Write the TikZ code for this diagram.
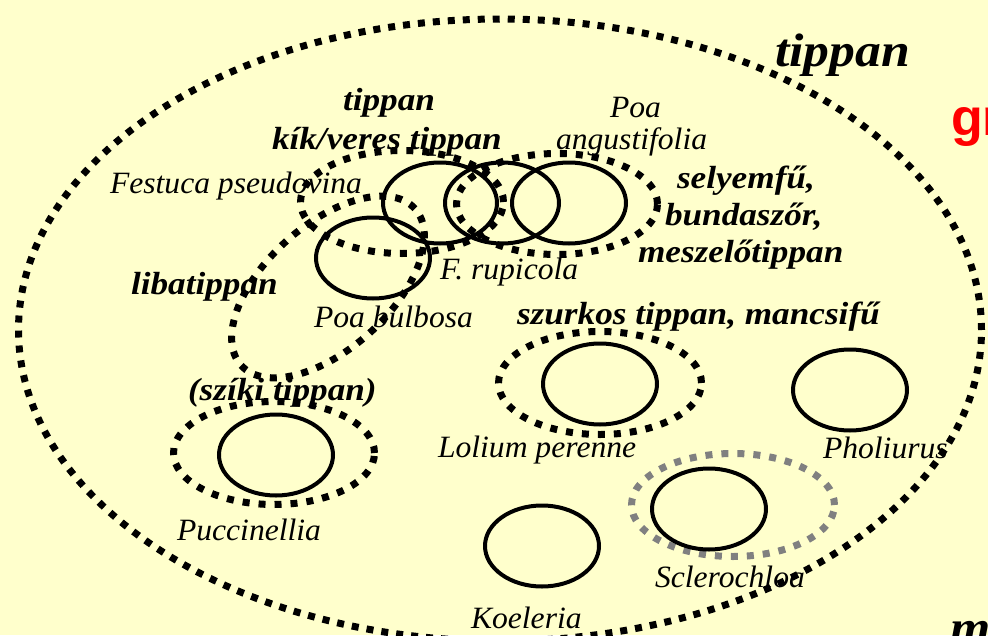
\documentclass[tikz,border=0pt]{standalone}
\usepackage{fontspec}
\setmainfont{Liberation Serif}[ItalicFeatures={FakeStretch=1.02},BoldItalicFeatures={FakeStretch=1.1}]
\newfontfamily\redsans{Liberation Sans}
\usetikzlibrary{shapes.geometric}
\definecolor{bgyellow}{RGB}{255,255,204}
\definecolor{dotgray}{RGB}{128,128,128}
\definecolor{titlered}{RGB}{255,0,0}
\begin{document}
\begin{tikzpicture}[x=1pt,y=-1pt,
  lab/.style={anchor=base west, inner sep=0pt, outer sep=0pt, font=\fontsize{31}{36}\selectfont\itshape},
  blab/.style={anchor=base west, inner sep=0pt, outer sep=0pt, font=\fontsize{32}{36}\selectfont\bfseries\itshape},
  biglab/.style={anchor=base west, inner sep=0pt, outer sep=0pt, font=\fontsize{47}{50}\selectfont\bfseries\itshape},
  ring/.style={ellipse, draw, line width=4pt, inner sep=0pt, outer sep=0pt, minimum width=114pt, minimum height=81pt},
  dotring/.style={ellipse, draw, line width=7pt, dash pattern=on 7pt off 9pt, inner sep=0pt, outer sep=0pt, minimum width=203pt, minimum height=103pt},
  grayring/.style={dotring, draw=dotgray},
]
\useasboundingbox (0,0) rectangle (988,635);
\fill[bgyellow] (0,0) rectangle (988,635);

% labels
\node[biglab] (ltippan) at (775,66) {tippan};
\node[anchor=base west, inner sep=0pt, text=titlered, font=\fontsize{52}{60}\selectfont\redsans\bfseries] (lgr) at (951,135) {gr};
\node[biglab] (lm) at (950,643) {m};
\node[blab] (ltip2) at (343,110) {tippan};
\node[blab] (lkik) at (272,149) {kík/veres tippan};
\node[lab] (lpoa) at (610,117) {Poa};
\node[lab] (langus) at (556,149) {angustifolia};
\node[lab] (lfest) at (110,193) {Festuca pseudovina};
\node[blab] (lsely) at (677,188) {selyemfű,};
\node[blab] (lbund) at (665,225) {bundaszőr,};
\node[blab] (lmesz) at (638,262) {meszelőtippan};
\node[lab] (lrup) at (440,279) {F. rupicola};
\node[blab] (lliba) at (131,294) {libatippan};
\node[lab] (lbulb) at (314,327) {Poa bulbosa};
\node[blab] (lszur) at (517,324) {szurkos tippan, mancsifű};
\node[blab] (lsziki) at (188,400) {(szíki tippan)};
\node[lab] (llol) at (438,457) {Lolium perenne};
\node[lab] (lphol) at (823,458) {Pholiurus};
\node[lab] (lpucc) at (177,540) {Puccinellia};
\node[lab] (lscl) at (655,587) {Sclerochloa};
\node[lab] (lkoel) at (471,628) {Koeleria};

% outer group
\node[ellipse, draw, line width=7pt, dash pattern=on 7pt off 8pt, inner sep=0pt,
      minimum width=963pt, minimum height=622pt] (outer) at (500,330) {};

% dotted groups
\node[dotring] (gkik) at (402,202) {};
\node[dotring, minimum width=201pt, minimum height=101pt] (gsely) at (557,204) {};
\node[dotring, rotate=42, minimum width=234pt, minimum height=124pt] (gliba) at (328,287) {};
\node[dotring] (glol) at (600,383) {};
\node[dotring, minimum width=201pt] (gpucc) at (274,453) {};
\node[grayring] (gscl) at (733,505) {};

% species
\node[ring] (fest) at (440,203) {};
\node[ring] (rup) at (502,203) {};
\node[ring] (angus) at (569,203) {};
\node[ring] (bulb) at (373,258) {};
\node[ring] (lol) at (600,384) {};
\node[ring] (phol) at (850,390) {};
\node[ring] (pucc) at (276,455) {};
\node[ring] (koel) at (542,546) {};
\node[ring] (scl) at (709,509) {};
\end{tikzpicture}
\end{document}
